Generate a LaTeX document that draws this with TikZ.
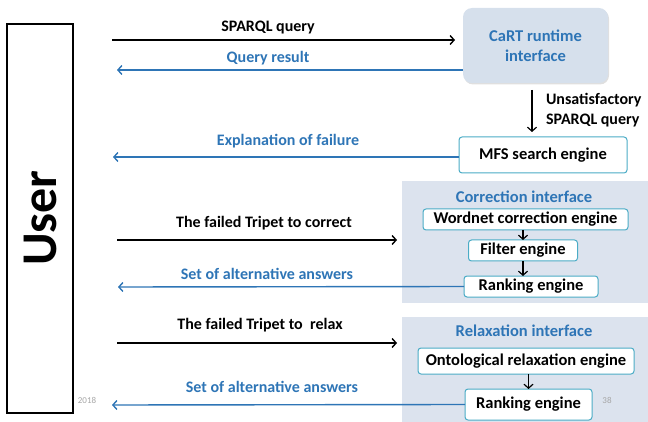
\documentclass[tikz,border=0pt]{standalone}
\usepackage{fontspec}
\setmainfont{Carlito}
\usepackage{tikz}
\usetikzlibrary{shadows,arrows.meta}
\definecolor{ablue}{HTML}{2E75B6}
\definecolor{edge}{HTML}{4BACC6}
\definecolor{panel}{HTML}{DCE3EE}
\definecolor{cartfill}{HTML}{D6E0EC}

\begin{document}
\begin{tikzpicture}[x=1pt, y=-1pt, every node/.style={inner sep=0pt, outer sep=0pt},
  >={Straight Barb[length=4pt,width=9pt]},
  lbl/.style={font=\bfseries\fontsize{16}{18}\selectfont},
  blbl/.style={lbl, text=ablue},
  engine/.style={draw=edge, line width=1pt, fill=white, rounded corners=3pt, font=\bfseries\fontsize{16.5}{18}\selectfont},
  ask/.style={->, line width=1.4pt, black},
  answer/.style={->, line width=1.4pt, ablue},
  down/.style={->, line width=1.2pt},
  tiny/.style={font=\fontsize{9}{10}\selectfont, text=gray!70}]
\useasboundingbox (0,0) rectangle (648,422);

% user column
\node[draw, line width=1.5pt, minimum width=66pt, minimum height=389pt] (user) at (40,218.5) {};
\node[rotate=90, font=\bfseries\fontsize{50}{50}\selectfont] (usertxt) at (40,218) {User};

% panels
\node[fill=panel, minimum width=246pt, minimum height=122pt] (corr) at (525,242) {};
\node[fill=panel, minimum width=246pt, minimum height=110pt] (relax) at (525,372) {};

% CaRT
\node[fill=cartfill, rounded corners=9pt, minimum width=145pt, minimum height=75pt, drop shadow={opacity=0.25, shadow xshift=1pt, shadow yshift=-1.5pt},
  align=center, text=ablue, font=\bfseries\fontsize{16.5}{20}\selectfont] (cart) at (535.5,45.5) {CaRT runtime\\interface};
\node[engine, minimum width=168pt, minimum height=36pt] (mfs) at (543,155) {MFS search engine};

% correction
\node[blbl, font=\bfseries\fontsize{16.5}{18}\selectfont] (corrtitle) at (524,197) {Correction interface};
\node[engine, minimum width=205pt, minimum height=21pt] (wordnet) at (525.5,219.5) {Wordnet correction engine};
\node[engine, minimum width=109pt, minimum height=21pt] (filter) at (523,250.5) {Filter engine};
\node[engine, minimum width=134pt, minimum height=21pt] (rank1) at (531,286.5) {Ranking engine};

% relaxation
\node[blbl, font=\bfseries\fontsize{16.5}{18}\selectfont] (relaxtitle) at (524,331) {Relaxation interface};
\node[engine, minimum width=216pt, minimum height=26pt] (onto) at (526,361) {Ontological relaxation engine};
\node[engine, minimum width=127pt, minimum height=31pt] (rank2) at (528.5,404.5) {Ranking engine};

% free ends
\coordinate (q1) at (112,40);
\coordinate (r1) at (117,70);
\coordinate (e1) at (113,157);
\coordinate (t1) at (117,240);
\coordinate (s1) at (118,287);
\coordinate (t2) at (117,343);
\coordinate (s2) at (112,405);
\coordinate (u1) at (532,90);
\coordinate (u2) at (532,132);

\draw[ask, shorten >=8pt] (q1) -- (cart.west |- q1);
\draw[answer] (cart.west |- r1) -- (r1);
\draw[down] (u1) -- (u2);
\draw[answer] (mfs.west |- e1) -- (e1);
\draw[ask, shorten >=5pt] (t1) -- (corr.west |- t1);
\draw[answer] (rank1.west) -- (s1);
\draw[ask, shorten >=5pt] (t2) -- (relax.west |- t2);
\draw[answer] (rank2.west) -- (s2);

\draw[down] (filter.north |- wordnet.south) -- (filter.north);
\draw[down] (filter.south) -- (filter.south |- rank1.north);
\draw[down] (rank2.north |- onto.south) -- (rank2.north);

% labels
\node[lbl] (ql) at (268,28) {SPARQL query};
\node[blbl] (rl) at (268,58) {Query result};
\node[lbl, align=left, anchor=west, font=\bfseries\fontsize{16}{20}\selectfont] (ul) at (546,110) {Unsatisfactory\\SPARQL query};
\node[blbl] (el) at (288,141) {Explanation of failure};
\node[lbl] (tl1) at (264,223) {The failed Tripet to correct};
\node[blbl] (sl1) at (267,274) {Set of alternative answers};
\node[lbl] (tl2) at (260,325) {The failed Tripet to\ \ relax};
\node[blbl] (sl2) at (272,387) {Set of alternative answers};

\node[tiny] (yr) at (87,400) {2018};
\node[tiny] (pg) at (607,400) {38};
\end{tikzpicture}
\end{document}
